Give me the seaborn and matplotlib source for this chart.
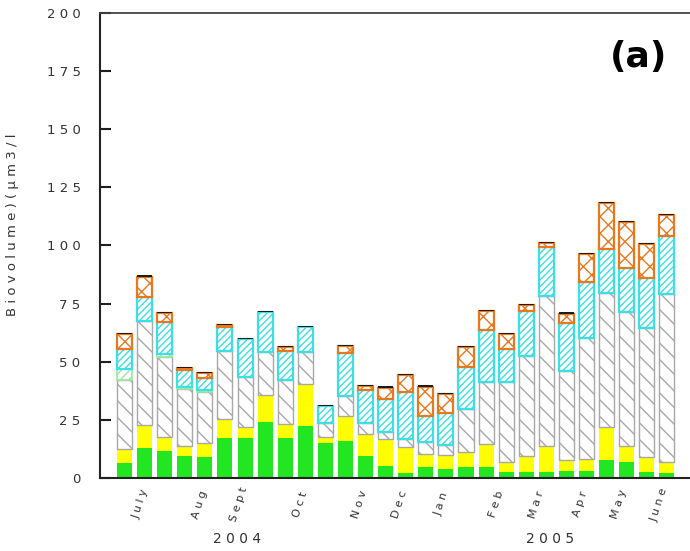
import numpy as np
import pandas as pd
import seaborn as sns
import matplotlib.pyplot as plt

# stacked biovolume per sampling date, bottom layer first
green = [6.6, 12.8, 11.6, 9.6, 9.2, 17.3, 17.3, 24.2, 17.3, 22.5, 14.9, 16.1, 9.6, 5.2,
         2.0, 4.6, 3.9, 4.6, 4.6, 2.7, 2.7, 2.7, 3.1, 3.1, 7.7, 7.0, 2.7, 2.3]
yellow = [5.9, 10.0, 6.2, 4.3, 6.0, 8.1, 4.8, 11.5, 5.9, 17.8, 2.9, 10.6, 9.3, 11.6,
          11.5, 5.7, 6.0, 6.7, 9.9, 4.1, 6.8, 11.2, 4.6, 5.1, 14.1, 6.9, 6.2, 4.5]
grey = [29.6, 44.7, 34.1, 24.4, 21.8, 29.4, 21.5, 18.6, 19.0, 14.0, 6.0, 8.6, 4.6, 3.1,
        3.1, 5.1, 4.3, 18.2, 26.9, 34.6, 43.0, 64.5, 38.5, 51.9, 57.9, 57.6, 55.5, 72.3]
pale = [4.6, 0, 1.4, 0.8, 0.7, 0, 0, 0, 0, 0, 0, 0, 0, 0,
        0, 0, 0, 0, 0, 0, 0, 0, 0, 0, 0, 0, 0, 0]
cyan = [8.7, 10.5, 13.9, 7.2, 5.5, 10.3, 16.2, 17.1, 12.6, 10.5, 7.0, 18.3, 14.3, 13.9,
        20.5, 11.4, 13.6, 18.2, 22.3, 14.1, 19.3, 21.1, 20.6, 24.1, 18.8, 19.0, 21.5, 24.9]
orange = [6.4, 8.6, 3.6, 1.0, 2.0, 0.6, 0, 0, 1.4, 0, 0, 3.2, 1.8, 5.1,
          7.1, 12.5, 8.2, 8.7, 8.1, 6.3, 2.5, 1.7, 3.9, 12.0, 19.9, 19.7, 14.6, 9.2]
dark = [0.6, 0.5, 0.5, 0.5, 0.5, 0.5, 0.5, 0.6, 0.5, 0.6, 0.5, 0.5, 0.5, 0.5,
        0.5, 0.5, 0.5, 0.5, 0.5, 0.5, 0.5, 0.5, 0.5, 0.5, 0.5, 0.5, 0.5, 0.5]

months = ["J u l y", "A u g", "S e p t", "O c t", "N o v", "D e c", "J a n",
          "F e b", "M a r", "A p r", "M a y", "J u n e"]
month_pos = [0.8, 3.76, 5.7, 8.73, 11.7, 13.7, 15.8, 18.5, 20.5, 22.7, 24.6, 26.6]
years = ["2 0 0 4", "2 0 0 5"]
year_pos = [5.6, 21.2]
yticks = [0, 25, 50, 75, 100, 125, 150, 175, 200]
ytick_labels = ["0", "2 5", "5 0", "7 5", "1 0 0", "1 2 5", "1 5 0", "1 7 5", "2 0 0"]

sns.set_theme(style="ticks")
plt.rcParams["font.family"] = ["DejaVu Sans"]
plt.rcParams["hatch.linewidth"] = 1.0

fig = plt.figure(figsize=(6.9, 5.51), dpi=100)
ax = fig.add_axes([100 / 690, 73 / 551, 590 / 690, 465 / 551])

idx = np.arange(len(green))
layers = [
    (green, "#22e622", None, None, 0),
    (yellow, "#ffff00", None, None, 0),
    (grey, "white", "#a8a8a8", "\\\\", 1.0),
    (pale, "white", "#9be89b", "////", 1.2),
    (cyan, "white", "#3cdfe6", "/////", 1.6),
    (orange, "white", "#e8781e", "xx", 1.6),
    (dark, "#1c1c1c", None, None, 0),
]

bottom = np.zeros(len(green))
for vals, fc, ec, hatch, lw in layers:
    vals = np.array(vals, dtype=float)
    df = pd.DataFrame({"i": idx, "v": vals})
    kw = {}
    if ec is not None:
        kw["edgecolor"] = [ec if v > 0 else "none" for v in vals]
        kw["hatch"] = hatch
        kw["linewidth"] = lw
    else:
        kw["linewidth"] = 0
    sns.barplot(data=df, x="i", y="v", color=fc, saturation=1, width=0.75,
                errorbar=None, bottom=bottom, ax=ax, **kw)
    bottom = bottom + vals

ax.set_xlim(-1.22, 28.15)
ax.set_ylim(0, 200)
ax.set_xlabel("")
ax.set_ylabel("")

ax.set_yticks(yticks, ytick_labels)
ax.tick_params(axis="y", direction="in", length=8, width=1.5, color="black",
               left=True, pad=14, labelsize=9.5, labelcolor="#333333")
# inward tick marks drawn along the left spine at the tick values
for v in yticks[1:-1]:
    ax.plot([0, 0.017], [v, v], transform=ax.get_yaxis_transform(),
            color="#222222", linewidth=1.3, clip_on=False, zorder=5)

ax.set_xticks(month_pos, months)
ax.tick_params(axis="x", length=0, pad=19, labelsize=8, labelcolor="#333333")
for lab in ax.get_xticklabels():
    lab.set_rotation(72)
    lab.set_va("center")
    lab.set_ha("center")

for p, y in zip(year_pos, years):
    ax.text(p, -0.131, y, transform=ax.get_xaxis_transform(), ha="center",
            va="center", fontsize=10, color="#333333")

for side in ["left", "bottom"]:
    ax.spines[side].set_color("#222222")
    ax.spines[side].set_linewidth(1.5)
ax.spines["top"].set_visible(True)
ax.spines["top"].set_color("#444444")
ax.spines["top"].set_linewidth(1.3)
ax.spines["right"].set_visible(False)

fig.text(13 / 690, 1 - 225 / 551, "B i o v o l u m e ) ( µ m 3 / l", rotation=90,
         ha="center", va="center", fontsize=9.5, color="#333333")
fig.text(639 / 690, 1 - 57 / 551, "(a)", ha="center", va="center",
         fontsize=26, fontweight="bold", color="black")

fig.savefig("out.png", dpi=100)
